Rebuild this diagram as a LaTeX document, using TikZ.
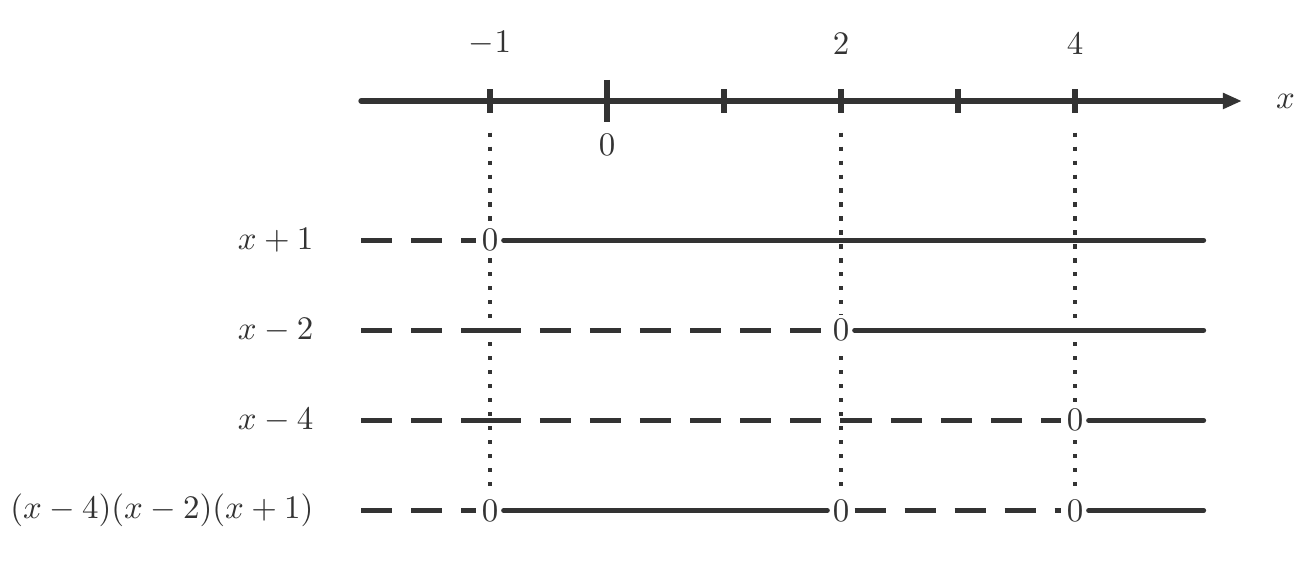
\documentclass[tikz,border=0pt]{standalone}
\usepackage{amsmath}
\usetikzlibrary{arrows.meta, positioning}
\definecolor{segno}{RGB}{51,51,51}

\begin{document}
\begin{tikzpicture}[x=1.25cm,y=1.25cm,
    asse/.style={line width=1.8pt,segno,line cap=round},
    tacca/.style={line width=1.6pt,segno},
    pieno/.style={line width=1.5pt,segno,line cap=round},
    tratto/.style={line width=1.5pt,segno,dash pattern=on 9.4pt off 5.8pt},
    punti/.style={line width=1.25pt,segno,dash pattern=on 1.25pt off 3pt},
    zero/.style={fill=white,inner sep=1.45pt,text=segno}]
    \useasboundingbox (-5.188,-3.983) rectangle (6.0,0.863);

    % Asse reale
    \coordinate (a0) at (-2.1,0);
    \coordinate (a1) at (5.427,0);
    \draw[asse,-{Triangle[length=5.8pt,width=4.6pt]}] (a0) -- (a1);
    \node[text=segno] (lx) at (5.8,0) {$x$};
    \foreach \t in {-1,1,2,3,4}
        \draw[tacca] (\t,0.1) -- (\t,-0.1);
    \draw[tacca] (0,0.18) -- (0,-0.18);
    \node[text=segno] (lm1) at (-1,0.49) {$-1$};
    \node[text=segno] (l2) at (2,0.49) {$2$};
    \node[text=segno] (l4) at (4,0.49) {$4$};
    \node[text=segno] (l0) at (0,-0.376) {$0$};

    % Linee verticali tratteggiate
    \coordinate (vm1) at (-1,-0.27);
    \coordinate (v2) at (2,-0.27);
    \coordinate (v4) at (4,-0.27);
    \coordinate (bm1) at (-1,-3.5);
    \coordinate (b2) at (2,-3.5);
    \coordinate (b4) at (4,-3.5);
    \draw[punti] (vm1) -- (bm1);
    \draw[punti] (v2) -- (b2);
    \draw[punti] (v4) -- (b4);

    % Fattori
    \node[anchor=east,text=segno] (f1) at (-2.41,-1.19) {$x+1$};
    \node[anchor=east,text=segno] (f2) at (-2.41,-1.96) {$x-2$};
    \node[anchor=east,text=segno] (f3) at (-2.41,-2.73) {$x-4$};
    \node[anchor=east,text=segno] (f4) at (-2.41,-3.5) {$(x-4)(x-2)(x+1)$};

    % Riga x+1
    \coordinate (s1) at (-2.1,-1.19);
    \coordinate (e1) at (5.1,-1.19);
    \node[zero] (z1) at (-1,-1.19) {$0$};
    \draw[tratto] (s1) -- (z1.west);
    \draw[pieno] (z1.east) -- (e1);

    % Riga x-2
    \coordinate (s2) at (-2.1,-1.96);
    \coordinate (m2) at (-1,-1.96);
    \coordinate (e2) at (5.1,-1.96);
    \node[zero] (z2) at (2,-1.96) {$0$};
    \draw[tratto] (s2) -- (m2);
    \draw[tratto] (m2) -- (z2.west);
    \draw[pieno] (z2.east) -- (e2);

    % Riga x-4
    \coordinate (s3) at (-2.1,-2.73);
    \coordinate (m3) at (-1,-2.73);
    \coordinate (n3) at (2,-2.73);
    \coordinate (e3) at (5.1,-2.73);
    \node[zero] (z3) at (4,-2.73) {$0$};
    \draw[tratto] (s3) -- (m3);
    \draw[tratto] (m3) -- (n3);
    \draw[tratto] (n3) -- (z3.west);
    \draw[pieno] (z3.east) -- (e3);

    % Riga del prodotto
    \coordinate (s4) at (-2.1,-3.5);
    \coordinate (e4) at (5.1,-3.5);
    \node[zero] (p1) at (-1,-3.5) {$0$};
    \node[zero] (p2) at (2,-3.5) {$0$};
    \node[zero] (p3) at (4,-3.5) {$0$};
    \draw[tratto] (s4) -- (p1.west);
    \draw[pieno] (p1.east) -- (p2.west);
    \draw[tratto] (p2.east) -- (p3.west);
    \draw[pieno] (p3.east) -- (e4);
\end{tikzpicture}
\end{document}
